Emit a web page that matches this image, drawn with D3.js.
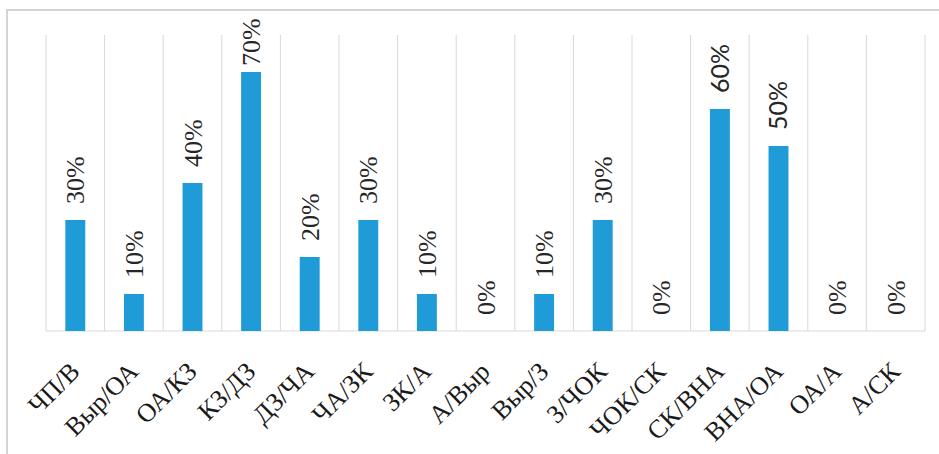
<!DOCTYPE html>
<html>
<head>
<meta charset="utf-8">
<script src="https://cdn.jsdelivr.net/npm/d3@7"></script>
<style>
  html, body { margin: 0; padding: 0; background: #ffffff; }
  svg { display: block; }
</style>
</head>
<body>
<svg id="chart" width="939" height="454"></svg>
<script>
const categories = ["ЧП/В", "Выр/ОА", "ОА/КЗ", "КЗ/ДЗ", "ДЗ/ЧА", "ЧА/ЗК", "ЗК/А", "А/Выр", "Выр/З", "З/ЧОК", "ЧОК/СК", "СК/ВНА", "ВНА/ОА", "ОА/А", "А/СК"];
const values = [0.30, 0.10, 0.40, 0.70, 0.20, 0.30, 0.10, 0.00, 0.10, 0.30, 0.00, 0.60, 0.50, 0.00, 0.00];
const yDomain = [0, 0.8];

const svg = d3.select("#chart");
const W = 939, H = 454;
const plot = { left: 46, right: 925, top: 35, bottom: 331 };
const serif = "'Liberation Serif', 'Times New Roman', serif";
const sans = "Lato, 'Open Sans', sans-serif";
// in the reference, the labels of СК/ВНА and ВНА/ОА are set in a sans face
const sansLabelCats = new Set(["СК/ВНА", "ВНА/ОА"]);

// chart frame (clipped on right/bottom like the reference)
svg.append("rect")
  .attr("x", 7).attr("y", 10)
  .attr("width", W + 10).attr("height", H + 10)
  .attr("fill", "#fff")
  .attr("stroke", "#d4d4d4")
  .attr("stroke-width", 2);

const x = d3.scaleBand().domain(categories).range([plot.left, plot.right]).paddingInner(0).paddingOuter(0);
const y = d3.scaleLinear().domain(yDomain).range([plot.bottom, plot.top]);

// vertical category gridlines
const bounds = categories.map(c => x(c)).concat([x(categories[categories.length - 1]) + x.bandwidth()]);
svg.append("g").selectAll("line").data(bounds).join("line")
  .attr("x1", d => d).attr("x2", d => d)
  .attr("y1", plot.top).attr("y2", plot.bottom)
  .attr("stroke", "#d9d9d9").attr("stroke-width", 1);

// baseline axis
svg.append("line")
  .attr("x1", plot.left).attr("x2", plot.right)
  .attr("y1", plot.bottom).attr("y2", plot.bottom)
  .attr("stroke", "#d9d9d9").attr("stroke-width", 1);

const barW = x.bandwidth() * 0.34;

svg.append("g").selectAll("rect").data(values).join("rect")
  .attr("x", (d, i) => x(categories[i]) + x.bandwidth() / 2 - barW / 2)
  .attr("y", d => y(d))
  .attr("width", barW)
  .attr("height", d => plot.bottom - y(d))
  .attr("fill", "#1f9bd7");

// value labels (rotated -90)
const fmt = d3.format(".0%");
svg.append("g").selectAll("text").data(values).join("text")
  .attr("transform", (d, i) => {
    const cx = x(categories[i]) + x.bandwidth() / 2;
    const yy = Math.max(y(d) - 16, 66);
    return `translate(${cx},${yy}) rotate(-90)`;
  })
  .attr("dy", "0.35em")
  .attr("text-anchor", "start")
  .attr("font-family", (d, i) => sansLabelCats.has(categories[i]) ? sans : serif)
  .attr("font-size", (d, i) => sansLabelCats.has(categories[i]) ? 25 : 26)
  .attr("fill", "#262626")
  .text(d => fmt(d));

// category labels (rotated -45)
svg.append("g").selectAll("text").data(categories).join("text")
  .attr("transform", d => `translate(${x(d) + x.bandwidth() / 2 + 6},373) rotate(-45)`)
  .attr("text-anchor", "end")
  .attr("font-family", serif)
  .attr("font-size", 26)
  .attr("fill", "#1a1a1a")
  .text(d => d);
</script>
</body>
</html>
